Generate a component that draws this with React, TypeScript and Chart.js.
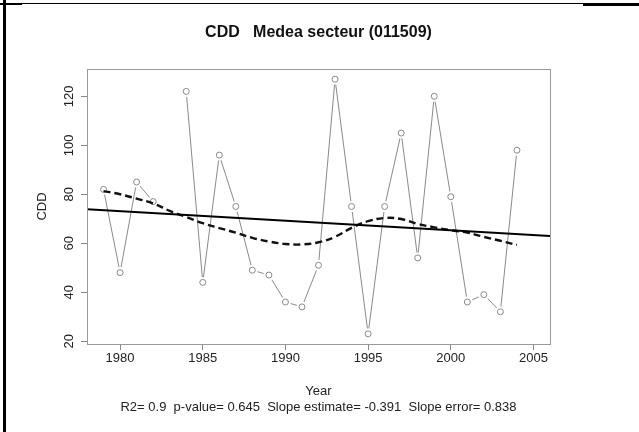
import React, { useEffect, useRef } from "react";
import { Chart, registerables } from "chart.js";

Chart.register(...registerables);

// ---- data ----
const years = [1979, 1980, 1981, 1982, 1983, 1984, 1985, 1986, 1987, 1988, 1989, 1990, 1991, 1992, 1993, 1994, 1995, 1996, 1997, 1998, 1999, 2000, 2001, 2002, 2003, 2004];
const cddValues: (number | null)[] = [82, 48, 85, 77, null, 122, 44, 96, 75, 49, 47, 36, 34, 51, 127, 75, 23, 75, 105, 54, 120, 79, 36, 39, 32, 98];
const smoothValues = [81.3, 80.0, 78.2, 76.3, 73.2, 70.7, 68.2, 66.2, 64.3, 62.2, 60.7, 59.7, 59.5, 60.4, 62.6, 66.3, 69.0, 70.3, 69.9, 67.9, 66.5, 65.3, 64.3, 62.6, 61.0, 59.3];
const trendYears = [1978, 2006];
const trendValues = [73.9, 63.0];
const xTicks = [1980, 1985, 1990, 1995, 2000, 2005];
const yTicks = [20, 40, 60, 80, 100, 120];
const xRange = [1978.0, 2006.0];
const yRange = [18.84, 131.16];
const titleText = "CDD   Medea secteur (011509)";
const xLabel = "Year";
const statsText = "R2= 0.9  p-value= 0.645  Slope estimate= -0.391  Slope error= 0.838";
const yLabel = "CDD";

const FONT = "'Liberation Sans', Arial, sans-serif";

const framePlugin = {
  id: "frame",
  beforeDraw(chart: any) {
    const { ctx, width, height } = chart;
    ctx.save();
    ctx.fillStyle = "#fff";
    ctx.fillRect(0, 0, width, height);
    ctx.restore();
  },
  afterDraw(chart: any) {
    const { ctx, chartArea } = chart;
    ctx.save();
    // plot box
    ctx.strokeStyle = "#9a9a9a";
    ctx.lineWidth = 1;
    ctx.strokeRect(chartArea.left + 0.5, chartArea.top + 0.5, chartArea.right - chartArea.left, chartArea.bottom - chartArea.top);
    // y tick labels (rotated, as in R)
    const ys = chart.scales.y;
    ctx.fillStyle = "#222";
    ctx.font = `13px ${FONT}`;
    ctx.textAlign = "center";
    ctx.textBaseline = "middle";
    ys.ticks.forEach((t: any) => {
      const py = ys.getPixelForValue(t.value);
      ctx.save();
      ctx.translate(chartArea.left - 18, py);
      ctx.rotate(-Math.PI / 2);
      ctx.fillText(String(t.value), 0, 0);
      ctx.restore();
    });
    // outer black frame lines
    ctx.fillStyle = "#000";
    ctx.fillRect(0, 3, 639, 1);
    ctx.fillRect(0, 3, 22, 2);
    ctx.fillRect(583, 3, 56, 3);
    ctx.fillRect(3, 0, 3, 432);
    ctx.restore();
  },
};

export default function App() {
  const ref = useRef<HTMLCanvasElement | null>(null);

  useEffect(() => {
    if (!ref.current) return;
    const pts = years.map((x, i) => ({ x, y: cddValues[i] }));
    const smooth = years.map((x, i) => ({ x, y: smoothValues[i] }));
    const trend = trendYears.map((x, i) => ({ x, y: trendValues[i] }));
    const chart = new Chart(ref.current, {
      type: "line",
      data: {
        datasets: [
          {
            data: trend,
            borderColor: "#000",
            borderWidth: 2,
            pointRadius: 0,
            tension: 0,
          },
          {
            data: smooth,
            borderColor: "#111",
            borderWidth: 2.4,
            borderDash: [7, 4],
            pointRadius: 0,
            tension: 0.4,
          },
          {
            data: pts,
            showLine: false,
            pointRadius: 3,
            pointBorderWidth: 1,
            pointBorderColor: "#8a8a8a",
            pointBackgroundColor: "rgba(255,255,255,0)",
          },
          {
            data: pts,
            showLine: false,
            pointRadius: 5.5,
            pointBorderWidth: 0,
            pointBackgroundColor: "#fff",
            pointBorderColor: "#fff",
          },
          {
            data: pts,
            borderColor: "#8a8a8a",
            borderWidth: 1,
            pointRadius: 0,
            spanGaps: false,
            tension: 0,
          },
        ],
      },
      options: {
        animation: false,
        responsive: false,
        devicePixelRatio: 1,
        layout: { padding: { left: 28, right: 89, top: 0, bottom: 0 } },
        plugins: {
          legend: { display: false },
          tooltip: { enabled: false },
          title: {
            display: true,
            text: titleText,
            fullSize: false,
            color: "#111",
            font: { family: FONT, size: 16, weight: "bold", lineHeight: 1.2 },
            padding: { top: 23.4, bottom: 26.4 },
          },
        },
        scales: {
          x: {
            type: "linear",
            min: xRange[0],
            max: xRange[1],
            afterFit: (s: any) => {
              s.height = 88;
            },
            afterBuildTicks: (s: any) => {
              s.ticks = xTicks.map((v) => ({ value: v }));
            },
            grid: { display: true, drawOnChartArea: false, drawTicks: true, tickLength: 6, color: "#8a8a8a" },
            border: { display: false },
            ticks: {
              color: "#222",
              font: { family: FONT, size: 13 },
              padding: 1,
              maxRotation: 0,
              minRotation: 0,
              callback: (v: any) => String(v),
            },
            title: {
              display: true,
              text: [xLabel, statsText],
              color: "#222",
              font: { family: FONT, size: 13, lineHeight: 1.2 },
              padding: { top: 4, bottom: 17 },
            },
          },
          y: {
            type: "linear",
            min: yRange[0],
            max: yRange[1],
            afterFit: (s: any) => {
              s.width = 59;
            },
            afterBuildTicks: (s: any) => {
              s.ticks = yTicks.map((v) => ({ value: v }));
            },
            grid: { display: true, drawOnChartArea: false, drawTicks: true, tickLength: 6, color: "#8a8a8a" },
            border: { display: false },
            ticks: { display: false },
            title: {
              display: true,
              text: yLabel,
              color: "#222",
              font: { family: FONT, size: 13, lineHeight: 1.2 },
              padding: { top: 7, bottom: 4 },
            },
          },
        },
      },
      plugins: [framePlugin],
    } as any);
    return () => chart.destroy();
  }, []);

  return (
    <div style={{ position: "fixed", left: 0, top: 0, width: 639, height: 432, background: "#fff" }}>
      <canvas ref={ref} width={639} height={432} style={{ display: "block" }} />
    </div>
  );
}
